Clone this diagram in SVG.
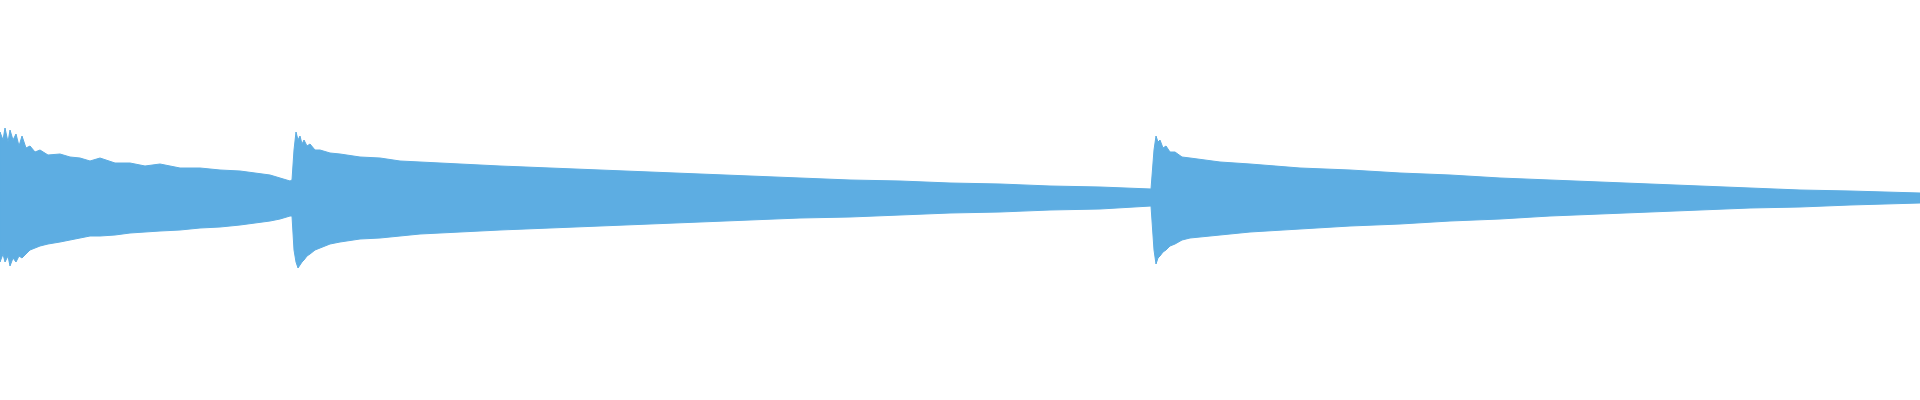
<svg xmlns="http://www.w3.org/2000/svg" width="1920" height="400" viewBox="0 0 1920 400">
<style>.w{fill:#5DADE2;stroke:#5DADE2;stroke-width:1;stroke-linejoin:miter}</style>
<rect width="1920" height="400" fill="#ffffff"/>
<g id="waveform">
<path class="w" d="M0,132 L3,140 5,128 8,142 10,130 13,140 16,134 19,146 22,136 26,148 30,146 35,152 40,150 48,155 60,154 70,157 80,158 90,161 100,158 115,163 130,163 145,166 160,164 180,168 200,168 220,170 240,171 255,173 270,175 280,178 290,181 292,180 294,150 296,132 298,140 300,136 302,144 304,140 307,146 310,144 315,150 320,150 330,153 340,154 360,157 380,158 400,161 420,162 460,164 500,166 550,168 600,170 650,172 700,174 750,176 800,178 850,180 900,181 950,183 1000,184 1050,186 1100,187 1151,189 1154,150 1156,136 1158,142 1160,140 1163,148 1166,146 1170,152 1175,152 1182,157 1190,158 1220,162 1250,164 1300,168 1350,170 1400,173 1450,175 1500,178 1550,180 1600,182 1650,184 1700,186 1750,188 1800,190 1850,191 1920,193 L1920,203 1850,205 1800,207 1750,208 1700,210 1650,212 1600,214 1550,216 1500,219 1450,221 1400,224 1350,226 1300,229 1250,232 1220,235 1190,238 1182,240 1175,244 1170,246 1166,250 1163,252 1160,256 1158,258 1156,264 1154,250 1151,206 1100,209 1050,210 1000,212 950,213 900,215 850,217 800,218 750,220 700,222 650,224 600,226 550,228 500,230 460,232 420,234 400,236 380,238 360,239 340,242 330,244 320,248 315,250 310,254 307,256 304,260 302,262 298,268 296,262 294,250 292,216 290,216 280,219 270,221 255,223 240,225 220,227 200,228 180,230 160,231 145,232 130,233 115,235 100,236 90,236 80,238 70,240 60,242 48,244 40,246 35,248 30,250 26,254 22,258 19,256 16,262 13,258 10,266 8,256 5,262 3,254 0,262 Z"/>
</g>
</svg>
